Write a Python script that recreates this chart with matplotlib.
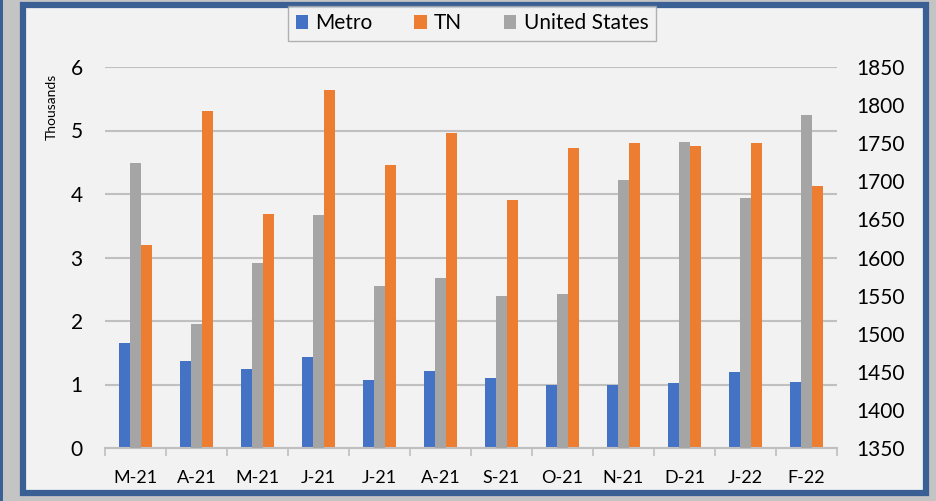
import numpy as np
import matplotlib
matplotlib.use("Agg")
from matplotlib import pyplot as plt
from matplotlib.patches import Rectangle

plt.rcParams['font.family'] = ['Lato', 'DejaVu Sans']

months = ["M-21", "A-21", "M-21", "J-21", "J-21", "A-21",
          "S-21", "O-21", "N-21", "D-21", "J-22", "F-22"]
# left axis, thousands
metro = [1.66, 1.37, 1.25, 1.43, 1.07, 1.21, 1.10, 1.00, 1.00, 1.03, 1.19, 1.04]
tn = [3.20, 5.30, 3.69, 5.64, 4.45, 4.96, 3.91, 4.72, 4.80, 4.76, 4.80, 4.13]
# right axis
us = [1724, 1513, 1593, 1656, 1562, 1573, 1549, 1552, 1702, 1752, 1678, 1787]

blue = '#4472c4'
orange = '#ed7d31'
grey = '#a5a5a5'
frame = '#3a5f94'

fig = plt.figure(figsize=(9.36, 5.01), dpi=100, facecolor='#c4c4c4')

# outer frame bits
fig.patches.append(Rectangle((0, 0), 3 / 936, 1, transform=fig.transFigure,
                             facecolor=frame, edgecolor='none', zorder=-3))
fig.patches.append(Rectangle((23 / 936, 8 / 501), 903 / 936, 488 / 501,
                             transform=fig.transFigure, facecolor='#f2f2f2',
                             edgecolor=frame, linewidth=4.5, zorder=-2))

ax = fig.add_axes([105 / 936, 53 / 501, 732 / 936, 381 / 501])
ax2 = ax.twinx()
ax.set_facecolor('none')
ax2.set_facecolor('none')

x = np.arange(len(months))
w = 0.18
b1 = ax.bar(x - w, metro, w, color=blue, linewidth=0)
b2 = ax.bar(x + w, tn, w, color=orange, linewidth=0)
b3 = ax2.bar(x, us, w, color=grey, linewidth=0)

ax.set_xlim(-0.5, len(months) - 0.5)
ax.set_ylim(0, 6)
ax2.set_ylim(1350, 1850)
ax.set_yticks(range(0, 7))
ax2.set_yticks(range(1350, 1851, 50))

ax.set_axisbelow(True)
ax.yaxis.grid(True, color='#c0c0c0', linewidth=1.5)

for a in (ax, ax2):
    for s in ('top', 'left', 'right', 'bottom'):
        a.spines[s].set_visible(False)
ax.spines['bottom'].set_visible(True)
ax.spines['bottom'].set_color('#bfbfbf')
ax.spines['bottom'].set_linewidth(1.5)

ax.set_xticks(x)
ax.set_xticklabels(months)
ax.set_xticks(np.arange(-0.5, len(months)), minor=True)
ax.tick_params(axis='x', which='major', length=0, pad=16, labelsize=13)
ax.tick_params(axis='x', which='minor', length=6, width=1.2, color='#bfbfbf')
ax.tick_params(axis='y', length=0, pad=16, labelsize=15)
ax2.tick_params(axis='y', length=0, pad=14, labelsize=15)

ax.set_ylabel("Thousands", fontsize=10)
ax.yaxis.set_label_coords(-0.064, 0.895)

leg = fig.legend([b1, b2, b3], ["Metro", "TN", "United States"],
                 loc='upper center', bbox_to_anchor=(472 / 936, 1 - 2 / 501),
                 ncol=3, fontsize=15, frameon=True, fancybox=False,
                 handlelength=0.6, handleheight=0.6, handletextpad=0.35,
                 columnspacing=2.0, borderpad=0.35, borderaxespad=0.2)
leg.get_frame().set_edgecolor('#a0a0a0')
leg.get_frame().set_facecolor('#f2f2f2')
leg.get_frame().set_linewidth(1.0)

fig.savefig("out.png", dpi=100, facecolor=fig.get_facecolor())
